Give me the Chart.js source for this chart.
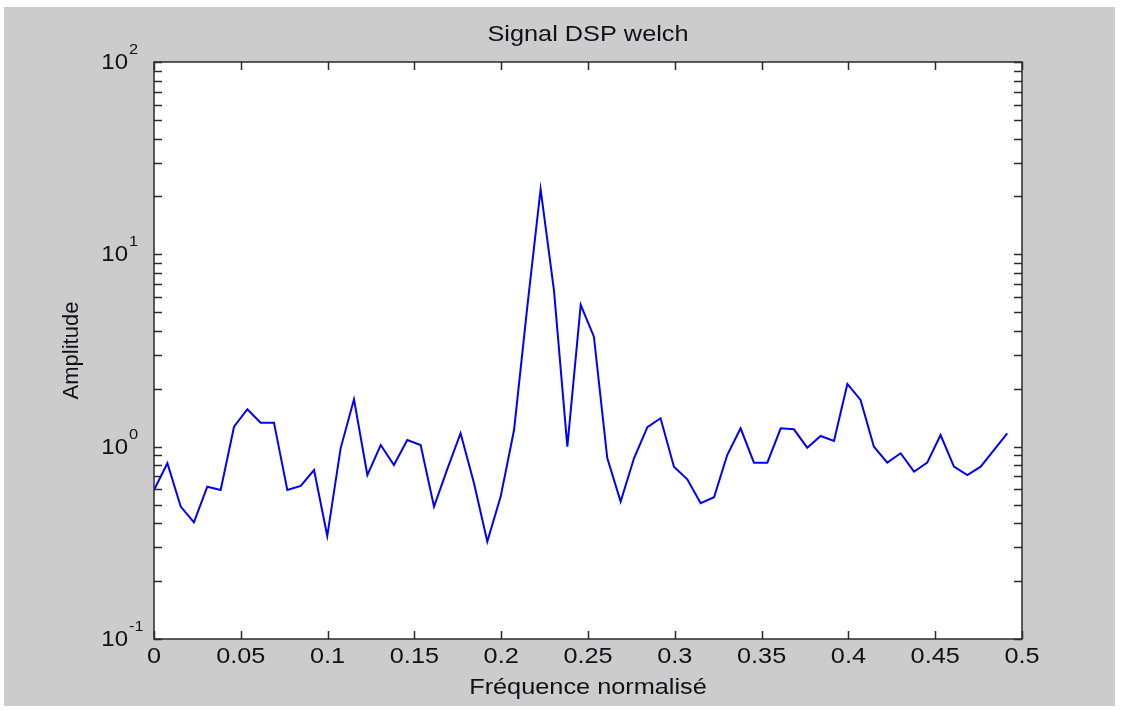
<!DOCTYPE html>
<html>
<head>
<meta charset="utf-8">
<title>Signal DSP welch</title>
<script src="https://cdn.jsdelivr.net/npm/chart.js@4/dist/chart.umd.min.js"></script>
<style>
  html, body { margin: 0; padding: 0; background: #fff; }
  #wrap { width: 1123px; height: 710px; }
</style>
</head>
<body>
<div id="wrap"><canvas id="dspChart"></canvas></div>
<script>
// frequences normalisees (sortie de pwelch)
const freqs = [
  0, 0.0077, 0.0154, 0.0230, 0.0307, 0.0384, 0.0461, 0.0538, 0.0614, 0.0691,
  0.0768, 0.0845, 0.0922, 0.0998, 0.1075, 0.1152, 0.1229, 0.1306, 0.1382, 0.1459,
  0.1536, 0.1613, 0.1690, 0.1766, 0.1843, 0.1920, 0.1997, 0.2074, 0.2150, 0.2227,
  0.2304, 0.2381, 0.2458, 0.2534, 0.2611, 0.2688, 0.2765, 0.2842, 0.2918, 0.2995,
  0.3072, 0.3149, 0.3226, 0.3302, 0.3379, 0.3456, 0.3533, 0.3610, 0.3686, 0.3763,
  0.3840, 0.3917, 0.3994, 0.4070, 0.4147, 0.4224, 0.4301, 0.4378, 0.4454, 0.4531,
  0.4608, 0.4685, 0.4762, 0.4838, 0.4915
];

// densite spectrale estimee
const amplitude = [
  0.595, 0.82, 0.488, 0.404, 0.619, 0.595, 1.27, 1.565, 1.333, 1.333,
  0.595, 0.625, 0.756, 0.343, 0.98, 1.764, 0.712, 1.02, 0.803, 1.083,
  1.02, 0.488, 0.766, 1.174, 0.647, 0.321, 0.55, 1.22, 5.3, 21.8,
  6.5, 1.0, 5.46, 3.73, 0.873, 0.518, 0.87, 1.262, 1.405, 0.787,
  0.677, 0.508, 0.546, 0.905, 1.246, 0.826, 0.826, 1.246, 1.231, 0.988,
  1.137, 1.071, 2.118, 1.75, 1.0, 0.826, 0.924, 0.741, 0.826, 1.15,
  0.787, 0.712, 0.787, 0.96, 1.174
];

const xTicks = [0, 0.05, 0.1, 0.15, 0.2, 0.25, 0.3, 0.35, 0.4, 0.45, 0.5];
const yTickExps = [-1, 0, 1, 2];
const yMinorMantissas = [2, 3, 4, 5, 6, 7, 8, 9];

const W = 1123, H = 710;
const FONT = '"Liberation Sans", Arial, Helvetica, sans-serif';
const TXT = '#101018';
const STRETCH = 1.15; // le rendu d'origine est un peu plus large que haut

// texte centre, elargi horizontalement
function wideText(ctx, txt, x, y, sx) {
  ctx.save();
  ctx.translate(x, y);
  ctx.scale(sx, 1);
  ctx.textAlign = 'center';
  ctx.textBaseline = 'middle';
  ctx.fillText(txt, 0, 0);
  ctx.restore();
}

const matlabAxes = {
  id: 'matlabAxes',
  beforeDraw(chart) {
    const { ctx, chartArea: a } = chart;
    ctx.save();
    ctx.fillStyle = '#ffffff';
    ctx.fillRect(0, 0, W, H);
    ctx.fillStyle = '#cccccc';
    ctx.fillRect(4, 7, W - 12, H - 11);
    ctx.fillStyle = '#ffffff';
    ctx.fillRect(a.left, a.top, a.right - a.left, a.bottom - a.top);
    ctx.restore();
  },
  afterDraw(chart) {
    const { ctx, chartArea: a, scales } = chart;
    const xs = scales.x, ys = scales.y;
    const tl = 8;
    ctx.save();
    ctx.strokeStyle = '#2a2a2a';
    ctx.lineWidth = 1.5;
    ctx.strokeRect(a.left, a.top, a.right - a.left, a.bottom - a.top);

    ctx.beginPath();
    xTicks.forEach(v => {
      const px = Math.round(xs.getPixelForValue(v)) + 0.5;
      ctx.moveTo(px, a.bottom); ctx.lineTo(px, a.bottom - tl);
      ctx.moveTo(px, a.top); ctx.lineTo(px, a.top + tl);
    });
    const yTickVals = [];
    yTickExps.forEach(e => {
      yTickVals.push(Math.pow(10, e));
      if (e < yTickExps[yTickExps.length - 1]) {
        yMinorMantissas.forEach(m => yTickVals.push(m * Math.pow(10, e)));
      }
    });
    yTickVals.forEach(v => {
      const py = Math.round(ys.getPixelForValue(v)) + 0.5;
      ctx.moveTo(a.left, py); ctx.lineTo(a.left + tl, py);
      ctx.moveTo(a.right, py); ctx.lineTo(a.right - tl, py);
    });
    ctx.stroke();

    ctx.fillStyle = TXT;
    // graduations x
    ctx.font = '22px ' + FONT;
    xTicks.forEach(v => {
      wideText(ctx, String(v), xs.getPixelForValue(v), a.bottom + 18, STRETCH);
    });

    // graduations y : 10 avec exposant
    yTickExps.forEach(e => {
      const py = ys.getPixelForValue(Math.pow(10, e));
      ctx.save();
      ctx.translate(a.left - 26, py + 1);
      ctx.scale(STRETCH * 0.95, 1);
      ctx.font = '22px ' + FONT;
      ctx.textAlign = 'right';
      ctx.textBaseline = 'middle';
      ctx.fillText('10', 0, 0);
      ctx.font = '15px ' + FONT;
      ctx.textAlign = 'left';
      ctx.fillText(String(e), 1, -13);
      ctx.restore();
    });

    // titre et labels d'axes
    const cx = (a.left + a.right) / 2;
    ctx.font = '22px ' + FONT;
    wideText(ctx, 'Signal DSP welch', cx, 35, STRETCH);
    wideText(ctx, 'Fréquence normalisé', cx, 688, STRETCH);
    ctx.translate(72, (a.top + a.bottom) / 2);
    ctx.rotate(-Math.PI / 2);
    ctx.textAlign = 'center';
    ctx.textBaseline = 'middle';
    ctx.fillText('Amplitude', 0, 0);
    ctx.restore();
  }
};

new Chart(document.getElementById('dspChart'), {
  type: 'line',
  data: {
    datasets: [{
      data: freqs.map((f, i) => ({ x: f, y: amplitude[i] })),
      borderColor: '#0000ff',
      borderWidth: 2,
      pointRadius: 0,
      tension: 0,
      fill: false
    }]
  },
  options: {
    responsive: true,
    maintainAspectRatio: false,
    animation: false,
    devicePixelRatio: 1,
    layout: { padding: { left: 0, top: 62, right: 101, bottom: 0 } },
    plugins: {
      legend: { display: false },
      tooltip: { enabled: false },
      title: { display: false }
    },
    scales: {
      x: {
        type: 'linear',
        min: 0,
        max: 0.5,
        grid: { display: false },
        border: { display: false },
        ticks: { display: false },
        afterFit(scale) { scale.height = 71; }
      },
      y: {
        type: 'logarithmic',
        min: 0.1,
        max: 100,
        grid: { display: false },
        border: { display: false },
        ticks: { display: false },
        afterFit(scale) { scale.width = 154; }
      }
    }
  },
  plugins: [matlabAxes]
});
</script>
</body>
</html>
